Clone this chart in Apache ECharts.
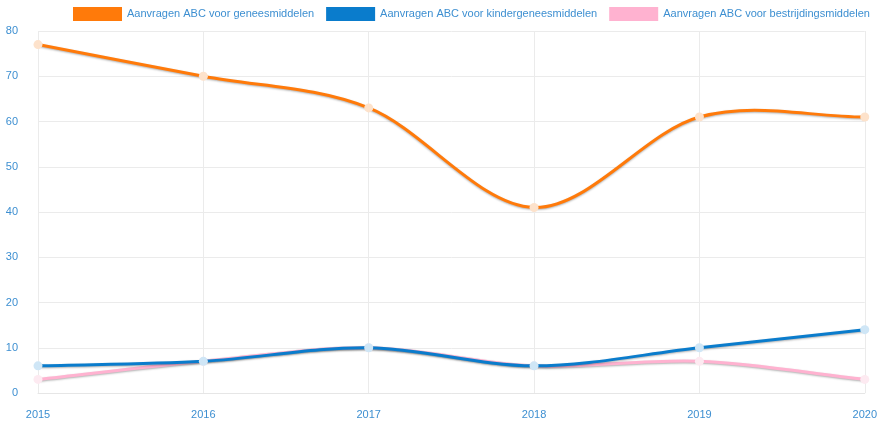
<!DOCTYPE html>
<html>
<head>
<meta charset="utf-8">
<script src="https://cdn.jsdelivr.net/npm/echarts@6/dist/echarts.min.js"></script>
<style>
    html, body { margin: 0; padding: 0; background: #fff; }
    #chart { width: 880px; height: 423px; }
</style>
</head>
<body>
<div id="chart"></div>
<script>
var years = ['2015', '2016', '2017', '2018', '2019', '2020'];
var geneesmiddelen = [77, 70, 63, 41, 61, 61];
var kindergeneesmiddelen = [6, 7, 10, 6, 10, 14];
var bestrijdingsmiddelen = [3, 7, 10, 6, 7, 3];

var seriesNames = [
    'Aanvragen ABC voor geneesmiddelen',
    'Aanvragen ABC voor kindergeneesmiddelen',
    'Aanvragen ABC voor bestrijdingsmiddelen'
];

var labelColor = '#3d8fd1';
var fontFam = 'Liberation Sans, Arial, sans-serif';

// cardinal spline thru the points, drawn segment by segment via api.coord
function splineSeries(name, values, lineColor, dotColor, z) {
    return {
        name: name,
        type: 'custom',
        z: z,
        itemStyle: { color: lineColor },
        data: values.map(function (v, i) { return [i, v]; }),
        encode: { x: 0, y: 1 },
        renderItem: function (params, api) {
            var i = params.dataIndex;
            var n = values.length;
            var pt = function (k) { return api.coord([k, values[k]]); };
            var p1 = pt(i);
            var children = [];
            if (i < n - 1) {
                var p2 = pt(i + 1);
                var p0 = i > 0 ? pt(i - 1) : [2 * p1[0] - p2[0], 2 * p1[1] - p2[1]];
                var p3 = i < n - 2 ? pt(i + 2) : [2 * p2[0] - p1[0], 2 * p2[1] - p1[1]];
                children.push({
                    type: 'bezierCurve',
                    z2: 0,
                    shape: {
                        x1: p1[0], y1: p1[1], x2: p2[0], y2: p2[1],
                        cpx1: p1[0] + (p2[0] - p0[0]) / 6,
                        cpy1: p1[1] + (p2[1] - p0[1]) / 6,
                        cpx2: p2[0] - (p3[0] - p1[0]) / 6,
                        cpy2: p2[1] - (p3[1] - p1[1]) / 6
                    },
                    style: {
                        stroke: lineColor, lineWidth: 3, fill: 'none',
                        shadowColor: 'rgba(0,0,0,0.3)', shadowBlur: 2, shadowOffsetY: 1
                    }
                });
            }
            children.push({
                type: 'circle',
                z2: 10,
                shape: { cx: p1[0], cy: p1[1], r: 4.5 },
                style: { fill: dotColor }
            });
            return { type: 'group', children: children };
        }
    };
}

var myChart = echarts.init(document.getElementById('chart'));
var option = {
    animation: false,
    legend: {
        top: 2,
        left: 68,
        width: 820,
        icon: 'rect',
        itemWidth: 49,
        itemHeight: 14,
        itemGap: 12,
        textStyle: { color: labelColor, fontSize: 11, fontFamily: fontFam },
        data: [
            { name: seriesNames[0], itemStyle: { color: '#ff7a0a' } },
            { name: seriesNames[1], itemStyle: { color: '#0a7ccc' } },
            { name: seriesNames[2], itemStyle: { color: '#ffb2d0' } }
        ]
    },
    grid: { left: 38, right: 14, top: 31, bottom: 30 },
    xAxis: {
        type: 'category',
        data: years,
        boundaryGap: false,
        axisLine: { lineStyle: { color: '#e6e6e6' } },
        axisTick: { show: false },
        axisLabel: { color: labelColor, fontSize: 11, margin: 16, fontFamily: fontFam },
        splitLine: { show: true, lineStyle: { color: '#ebebeb' } }
    },
    yAxis: {
        type: 'value',
        min: 0,
        max: 80,
        interval: 10,
        axisLine: { show: false },
        axisTick: { show: false },
        axisLabel: { color: labelColor, fontSize: 11, margin: 20, fontFamily: fontFam },
        splitLine: { lineStyle: { color: '#ebebeb' } }
    },
    series: [
        splineSeries(seriesNames[0], geneesmiddelen, '#ff7a0a', '#fde2cb', 4),
        splineSeries(seriesNames[1], kindergeneesmiddelen, '#0a7ccc', '#cfe6f6', 3),
        splineSeries(seriesNames[2], bestrijdingsmiddelen, '#ffb2d0', '#fdeaf1', 2)
    ]
};
myChart.setOption(option);
</script>
</body>
</html>
